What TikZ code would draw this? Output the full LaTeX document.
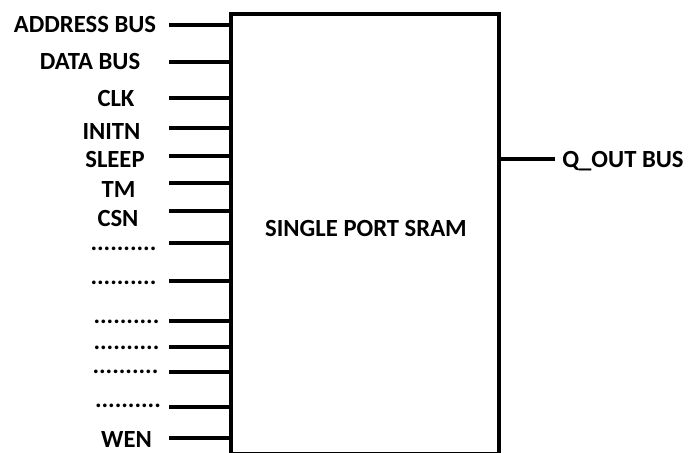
\documentclass[tikz,border=0pt]{standalone}
\usepackage{fontspec}
\setmainfont{Carlito}
\usetikzlibrary{positioning}
\newcommand{\pindots}{..........}
\tikzset{
  sigtxt/.style={font=\fontsize{18.5}{20}\selectfont\bfseries, inner sep=0pt, anchor=base},
  sigwire/.style={line width=3.2pt},
  srambox/.style={draw=black, line width=3.2pt, minimum width=201pt, minimum height=330pt, inner sep=0pt}
}

\begin{document}
\begin{tikzpicture}[x=0.75pt, y=-0.75pt]
\useasboundingbox (0,0) rectangle (690,453);
% memory block
\node[srambox] (sram) at (365,234) {};
\node[sigtxt, anchor=center] (title) at (366,228.5) {SINGLE PORT SRAM};
% input pins
\foreach \nm/\px/\py/\wy/\txt in {
  addr/85/33/25/ADDRESS BUS, data/90/70/62/DATA BUS, clk/116/107/98/CLK,
  initn/111.5/140/128/INITN, sleep/115/167/156/SLEEP, tm/118.5/197/183/TM,
  csn/118/227/211/CSN, d1/123.5/250/243/\pindots, d2/123.5/284/281/\pindots,
  d3/126.5/323/321/\pindots, d4/126.5/349/347/\pindots, d5/125.5/373/372/\pindots,
  d6/128/407/407/\pindots, wen/126.5/447/438/WEN}{
  \node[sigtxt] (\nm) at (\px,\py) {\txt};
  \coordinate (\nm w) at (169,\wy);
  \draw[sigwire] (\nm w) -- (\nm w -| sram.west);
}
% output pin
\coordinate (qw) at (555,159);
\node[sigtxt, anchor=base west] (qout) at (562,167) {Q\_OUT BUS};
\draw[sigwire] (sram.east |- qw) -- (qw);
\end{tikzpicture}
\end{document}
